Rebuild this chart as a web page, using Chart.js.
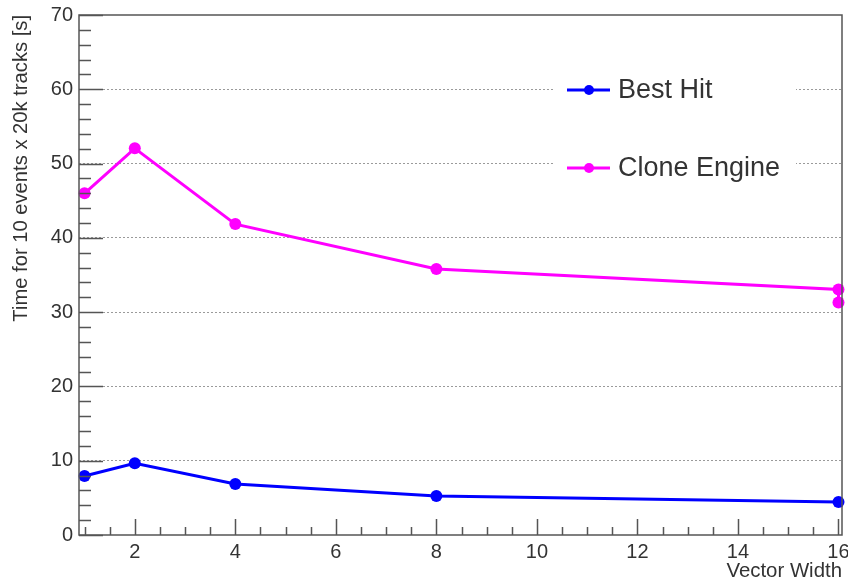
<!DOCTYPE html>
<html>
<head>
<meta charset="utf-8">
<script src="https://cdn.jsdelivr.net/npm/chart.js@4"></script>
<style>
  html, body { margin: 0; padding: 0; background: #ffffff; }
  #wrap { width: 848px; height: 582px; }
</style>
</head>
<body>
<div id="wrap"><canvas id="c" width="848" height="582"></canvas></div>
<script>
// ---- data ----
const vectorWidths   = [1, 2, 4, 8, 16];
const bestHitTimes   = [7.95, 9.65, 6.87, 5.25, 4.45];
const cloneWidths    = [1, 2, 4, 8, 16, 16];
const cloneEngineTimes = [46.0, 52.05, 41.85, 35.8, 33.05, 31.3];
const xTickLabels    = [2, 4, 6, 8, 10, 12, 14, 16];
const yTickLabels    = [0, 10, 20, 30, 40, 50, 60, 70];
const seriesNames    = ['Best Hit', 'Clone Engine'];
const xTitle = 'Vector Width';
const yTitle = 'Time for 10 events x 20k tracks [s]';

const FONT = "'Liberation Sans', Arial, Helvetica, sans-serif";
const TXT = '#333333';
const FRAME = '#555555';

const toPts = (xs, ys) => xs.map((x, i) => ({ x: x, y: ys[i] }));

// ROOT-like frame + inward ticks
const framePlugin = {
  id: 'frameTicks',
  afterDatasetsDraw(chart) {
    const { ctx, chartArea: a, scales } = chart;
    const xs = scales.x, ys = scales.y;
    ctx.save();
    ctx.strokeStyle = FRAME;
    ctx.lineWidth = 1.5;
    ctx.strokeRect(a.left, a.top, a.right - a.left, a.bottom - a.top);
    ctx.beginPath();
    for (let v = ys.min; v <= ys.max + 1e-9; v += 2) {
      const py = Math.round(ys.getPixelForValue(v)) + 0.5;
      const major = Math.abs(v % 10) < 1e-9;
      ctx.moveTo(a.left, py);
      ctx.lineTo(a.left + (major ? 24 : 12), py);
    }
    for (let v = 1; v <= 16 + 1e-9; v += 0.5) {
      const px = Math.round(xs.getPixelForValue(v)) + 0.5;
      const major = Math.abs(v % 2) < 1e-9;
      ctx.moveTo(px, a.bottom);
      ctx.lineTo(px, a.bottom - (major ? 16 : 8));
    }
    ctx.stroke();
    ctx.restore();
  }
};

// in-frame legend (ROOT TLegend style)
const legendPlugin = {
  id: 'rootLegend',
  afterDraw(chart) {
    const { ctx } = chart;
    ctx.save();
    ctx.fillStyle = '#ffffff';
    ctx.fillRect(555, 58, 241, 142);
    const rows = [90, 168];
    chart.data.datasets.forEach((ds, i) => {
      const y = rows[i];
      ctx.strokeStyle = ds.borderColor;
      ctx.lineWidth = 3;
      ctx.beginPath();
      ctx.moveTo(567, y);
      ctx.lineTo(610, y);
      ctx.stroke();
      ctx.fillStyle = ds.backgroundColor;
      ctx.beginPath();
      ctx.arc(589, y, 5, 0, Math.PI * 2);
      ctx.fill();
      ctx.fillStyle = TXT;
      ctx.font = '27px ' + FONT;
      ctx.textBaseline = 'middle';
      ctx.textAlign = 'left';
      ctx.fillText(ds.label, 618, y + 1);
    });
    ctx.restore();
  }
};

new Chart(document.getElementById('c'), {
  type: 'line',
  data: {
    datasets: [
      {
        label: seriesNames[0],
        data: toPts(vectorWidths, bestHitTimes),
        borderColor: '#0000ff',
        backgroundColor: '#0000ff',
        borderWidth: 3,
        pointRadius: 6,
        pointBorderWidth: 0,
        pointBackgroundColor: '#0000ff',
        tension: 0,
        clip: 12
      },
      {
        label: seriesNames[1],
        data: toPts(cloneWidths, cloneEngineTimes),
        borderColor: '#ff00ff',
        backgroundColor: '#ff00ff',
        borderWidth: 3,
        pointRadius: 6,
        pointBorderWidth: 0,
        pointBackgroundColor: '#ff00ff',
        tension: 0,
        clip: 12
      }
    ]
  },
  options: {
    responsive: false,
    animation: false,
    devicePixelRatio: 1,
    layout: { padding: { top: 15, right: 4, left: 0, bottom: 0 } },
    plugins: {
      legend: { display: false },
      tooltip: { enabled: false },
      title: { display: false }
    },
    scales: {
      x: {
        type: 'linear',
        min: 0.89,
        max: 16.07,
        afterBuildTicks: (s) => { s.ticks = xTickLabels.map(v => ({ value: v })); },
        afterFit: (s) => { s.paddingLeft = 0; s.paddingRight = 0; s.height = 47; },
        grid: { display: false, drawTicks: false },
        border: { display: false },
        ticks: {
          color: TXT,
          font: { family: FONT, size: 20 },
          padding: 5,
          maxRotation: 0,
          autoSkip: false
        },
        title: {
          display: true,
          text: xTitle,
          align: 'end',
          color: TXT,
          font: { family: FONT, size: 20.4, lineHeight: 1.0 },
          padding: { top: 0, bottom: 0 }
        }
      },
      y: {
        type: 'linear',
        min: 0,
        max: 70,
        afterBuildTicks: (s) => { s.ticks = yTickLabels.map(v => ({ value: v })); },
        afterFit: (s) => { s.paddingTop = 0; s.paddingBottom = 0; s.width = 79; },
        grid: {
          display: true,
          drawTicks: false,
          color: (c) => (c.tick && (c.tick.value === 0 || c.tick.value === 70)) ? 'rgba(0,0,0,0)' : '#9a9a9a',
          lineWidth: 1
        },
        border: { display: false, dash: [2, 2] },
        ticks: {
          color: TXT,
          font: { family: FONT, size: 20 },
          padding: 6
        },
        title: {
          display: true,
          text: yTitle,
          align: 'end',
          color: TXT,
          font: { family: FONT, size: 20.2, lineHeight: 1.2 },
          padding: { top: 9, bottom: 0 }
        }
      }
    }
  },
  plugins: [framePlugin, legendPlugin]
});
</script>
</body>
</html>
